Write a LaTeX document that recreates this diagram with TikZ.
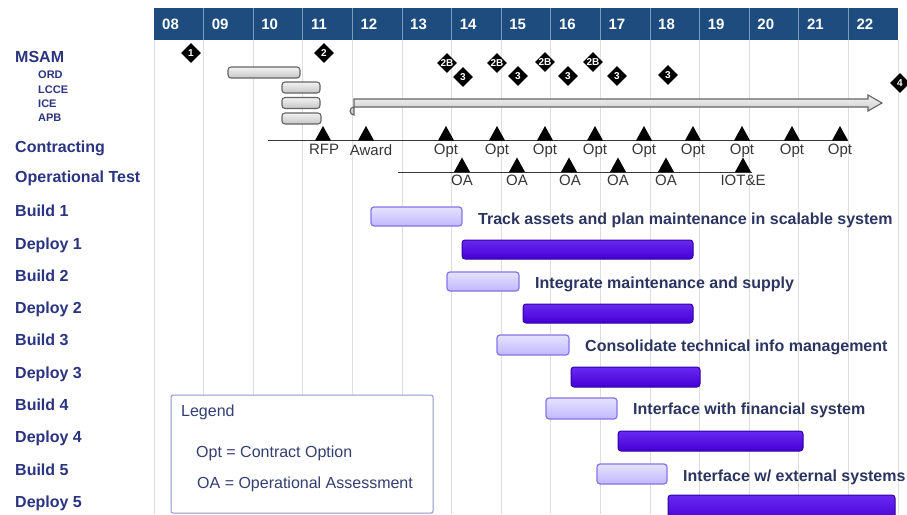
\documentclass[tikz,border=0pt]{standalone}
\usepackage{fontspec}
\setmainfont{Liberation Sans}
\usetikzlibrary{shapes.geometric}

\definecolor{hdrblue}{RGB}{30,76,126}
\definecolor{hdrsep}{RGB}{125,155,190}
\definecolor{gridgray}{RGB}{222,222,222}
\definecolor{rowlab}{RGB}{42,52,128}
\definecolor{tasklab}{RGB}{44,52,96}
\definecolor{buildtop}{RGB}{230,226,255}
\definecolor{buildbot}{RGB}{192,184,252}
\definecolor{buildedge}{RGB}{135,115,232}
\definecolor{deploytop}{RGB}{105,40,242}
\definecolor{deploybot}{RGB}{68,0,212}
\definecolor{deployedge}{RGB}{52,0,160}
\definecolor{msamtop}{RGB}{242,242,242}
\definecolor{msambot}{RGB}{198,198,198}
\definecolor{msamedge}{RGB}{100,100,100}
\definecolor{markgray}{RGB}{55,55,55}
\definecolor{legedge}{RGB}{140,152,200}
\definecolor{legtext}{RGB}{52,62,112}

\tikzset{
  rowlabel/.style={anchor=west, inner sep=0pt, text=rowlab,
    font=\bfseries\fontsize{16}{19}\selectfont, text height=11.4pt, text depth=0pt},
  sublabel/.style={anchor=west, inner sep=0pt, text=rowlab,
    font=\bfseries\fontsize{11}{13}\selectfont, text height=7.9pt, text depth=0pt},
  yearlabel/.style={anchor=west, inner sep=0pt, text=white,
    font=\bfseries\fontsize{15}{18}\selectfont, text height=10.7pt, text depth=0pt},
  marklabel/.style={anchor=north, inner sep=0pt, text=markgray,
    font=\fontsize{15}{18}\selectfont},
  tasklabel/.style={anchor=west, inner sep=0pt, text=tasklab,
    font=\bfseries\fontsize{16}{19}\selectfont, text height=11.4pt, text depth=0pt},
  legendtext/.style={anchor=west, inner sep=0pt, text=legtext,
    font=\fontsize{16}{19}\selectfont, text height=11.4pt, text depth=0pt},
  buildbar/.style={draw=buildedge, line width=1.2pt, rounded corners=3pt,
    top color=buildtop, bottom color=buildbot},
  deploybar/.style={draw=deployedge, line width=1pt, rounded corners=3pt,
    top color=deploytop, bottom color=deploybot},
  msambar/.style={draw=msamedge, line width=1.1pt, rounded corners=3pt,
    top color=msamtop, bottom color=msambot},
  milestone/.style={diamond, fill=black, minimum size=20pt, inner sep=0pt,
    text=white, font=\bfseries\fontsize{10}{10}\selectfont},
  tick/.style={fill=black},
}

\begin{document}
\begin{tikzpicture}[x=1pt,y=-1pt]
\useasboundingbox (0,0) rectangle (907,514);
\fill[white] (0,0) rectangle (907,514);

% year header and grid
\fill[hdrblue] (154,8) rectangle (898,40);
\foreach \i in {0,...,15} {
  \draw[gridgray, line width=1pt] (154+\i*49.6,40) -- (154+\i*49.6,514);
}
\foreach \i in {1,...,14} {
  \draw[hdrsep, line width=0.8pt] (154+\i*49.6,8) -- (154+\i*49.6,40);
}
\foreach \yr [count=\i from 0] in {08,09,10,11,12,13,14,15,16,17,18,19,20,21,22} {
  \node[yearlabel] (yr\i) at (154+\i*49.6+8,24) {\yr};
}

% row labels
\node[rowlabel] (msam) at (15,56.5) {MSAM};
\node[sublabel] (ord)  at (38,75) {ORD};
\node[sublabel] (lcce) at (38,90) {LCCE};
\node[sublabel] (ice)  at (38,104) {ICE};
\node[sublabel] (apb)  at (38,118) {APB};
\node[rowlabel] (contr) at (15,146.5) {Contracting};
\node[rowlabel] (optest) at (15,177) {Operational Test};
\node[rowlabel] (b1) at (15,211) {Build 1};
\node[rowlabel] (d1) at (15,243.3) {Deploy 1};
\node[rowlabel] (b2) at (15,275.6) {Build 2};
\node[rowlabel] (d2) at (15,307.9) {Deploy 2};
\node[rowlabel] (b3) at (15,340.2) {Build 3};
\node[rowlabel] (d3) at (15,372.5) {Deploy 3};
\node[rowlabel] (b4) at (15,404.8) {Build 4};
\node[rowlabel] (d4) at (15,437.1) {Deploy 4};
\node[rowlabel] (b5) at (15,469.4) {Build 5};
\node[rowlabel] (d5) at (15,501.7) {Deploy 5};

% MSAM documents
\path[msambar] (228,67) rectangle (300,78);
\path[msambar] (282,82) rectangle (320,93);
\path[msambar] (282,97.5) rectangle (320,108.5);
\path[msambar] (282,113) rectangle (321,124);
\path[draw=msamedge, line width=1.1pt, top color=msamtop, bottom color=msambot]
  (354,99) -- (868,99) -- (868,95) -- (882,103) -- (868,111) -- (868,107)
  -- (354,107) arc (270:90:4) -- cycle;

% MSAM milestones
\node[milestone] (m1) at (191,53) {1};
\node[milestone] (m2) at (324,53) {2};
\node[milestone] (m2a) at (447,63) {2B};
\node[milestone] (m2b) at (497,63) {2B};
\node[milestone] (m2c) at (545,62) {2B};
\node[milestone] (m2d) at (593,62) {2B};
\node[milestone] (m3a) at (463,77) {3};
\node[milestone] (m3b) at (518,76) {3};
\node[milestone] (m3c) at (568,76) {3};
\node[milestone] (m3d) at (617,76) {3};
\node[milestone] (m3e) at (668,75) {3};
\node[milestone] (m4) at (900,83) {4};

% contracting events
\draw[markgray, line width=1pt] (268,140.5) -- (848,140.5);
\foreach \x in {323,366,446,497,545,595,644,693,742,792,840} {
  \fill[tick] (\x-8,140.5) -- (\x,126) -- (\x+8,140.5) -- cycle;
}
\node[marklabel] (rfp) at (324,144) {RFP};
\node[marklabel] (award) at (371,144) {Award};
\foreach \x [count=\k] in {446,497,545,595,644,693,742,792,840} {
  \node[marklabel] (opt\k) at (\x,144) {Opt};
}

% operational test events
\draw[markgray, line width=1pt] (398,172) -- (752,172);
\foreach \x in {462,517,569,618,666,743} {
  \fill[tick] (\x-8,172) -- (\x,157.5) -- (\x+8,172) -- cycle;
}
\foreach \x [count=\k] in {462,517,570,618,666} {
  \node[marklabel] (oa\k) at (\x,174.5) {OA};
}
\node[marklabel] (iote) at (743,174.5) {IOT\&E};

% builds and deployments
\path[buildbar] (371,207) rectangle (462,226);
\path[deploybar] (462,240) rectangle (693,259);
\path[buildbar] (447,272) rectangle (519,291);
\path[deploybar] (523,304) rectangle (693,323);
\path[buildbar] (497,335) rectangle (569,355);
\path[deploybar] (571,367) rectangle (700,387);
\path[buildbar] (546,398) rectangle (617,419);
\path[deploybar] (618,431) rectangle (803,451);
\path[buildbar] (597,464) rectangle (667,484);
\path[deploybar] (668,495) rectangle (895,522);

\node[tasklabel] (t1) at (478,219) {Track assets and plan maintenance in scalable system};
\node[tasklabel] (t2) at (535,282.5) {Integrate maintenance and supply};
\node[tasklabel] (t3) at (585,346) {Consolidate technical info management};
\node[tasklabel] (t4) at (633,409) {Interface with financial system};
\node[tasklabel] (t5) at (683,476) {Interface w/ external systems};

% legend
\draw[legedge, fill=white, line width=1pt, rounded corners=2pt] (171,395) rectangle (433,513);
\node[legendtext] (leg) at (181,411) {Legend};
\node[legendtext] (legopt) at (196,452) {Opt = Contract Option};
\node[legendtext] (legoa) at (197,483) {OA = Operational Assessment};
\end{tikzpicture}
\end{document}
